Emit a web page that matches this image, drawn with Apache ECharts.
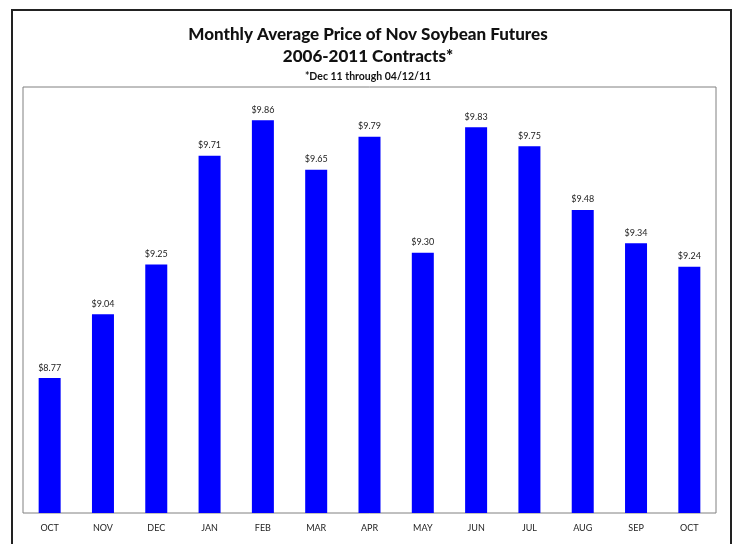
<!DOCTYPE html>
<html>
<head>
<meta charset="utf-8">
<script src="https://cdn.jsdelivr.net/npm/echarts@6/dist/echarts.min.js"></script>
<style>
  html, body { margin: 0; padding: 0; background: #fff; }
  #chart { width: 736px; height: 544px; }
</style>
</head>
<body>
<div id="chart"></div>
<script>
var months = ['OCT', 'NOV', 'DEC', 'JAN', 'FEB', 'MAR', 'APR', 'MAY', 'JUN', 'JUL', 'AUG', 'SEP', 'OCT'];
var prices = [8.77, 9.04, 9.25, 9.71, 9.86, 9.65, 9.79, 9.30, 9.83, 9.75, 9.48, 9.34, 9.24];

var chart = echarts.init(document.getElementById('chart'));
var font = 'Lato, "Open Sans", sans-serif';

var option = {
  animation: false,
  title: [{
    text: 'Monthly Average Price of Nov Soybean Futures\n2006-2011 Contracts*',
    left: 'center',
    top: 19,
    textStyle: { fontFamily: font, fontSize: 17, fontWeight: 900, color: '#111', lineHeight: 22 }
  }, {
    text: '*Dec 11 through 04/12/11',
    left: 'center',
    top: 66,
    textStyle: { fontFamily: font, fontSize: 10.5, fontWeight: 'bold', color: '#111' }
  }],
  graphic: [{
    type: 'rect',
    shape: { x: 12, y: 10, width: 719, height: 560 },
    style: { fill: 'none', stroke: '#222', lineWidth: 2 },
    silent: true
  }],
  grid: {
    left: 23,
    right: 20,
    top: 87,
    bottom: 31,
    show: true,
    borderColor: '#808080',
    borderWidth: 1
  },
  xAxis: {
    type: 'category',
    data: months,
    axisLine: { show: false },
    axisTick: { show: false },
    axisLabel: { fontFamily: font, fontSize: 9, color: '#222', margin: 11 }
  },
  yAxis: {
    type: 'value',
    min: 8.2,
    max: 10.0,
    show: false,
    splitLine: { show: false }
  },
  series: [{
    type: 'bar',
    data: prices,
    barWidth: 22,
    itemStyle: { color: '#0000ff' },
    label: {
      show: true,
      position: 'top',
      distance: 6,
      fontFamily: font,
      fontSize: 9,
      color: '#222',
      formatter: function (p) { return '$' + p.value.toFixed(2); }
    }
  }]
};
chart.setOption(option);
</script>
</body>
</html>
